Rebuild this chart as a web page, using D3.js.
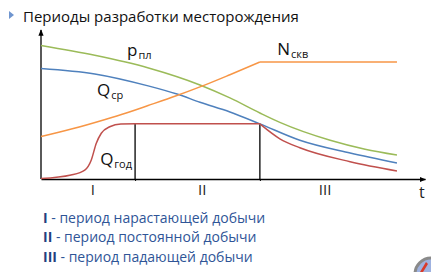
<!DOCTYPE html>
<html><head><meta charset="utf-8">
<script src="https://cdn.jsdelivr.net/npm/d3@7"></script>
<style>
html,body{margin:0;padding:0;background:#fff;}
svg{display:block;font-family:"Open Sans","Noto Sans",sans-serif;}
</style></head>
<body>
<script>
// ---- data ----
const titleText = "Периоды разработки месторождения";
const periodBounds = [24.5, 57];        // boundaries between periods (time units)
const periodEnd = 92.7;
const periodLabels = ["I", "II", "III"];
const periodLabelPos = [13.5, 42, 74];
const legendNumerals = ["I", "II", "III"];
const legendTexts = [" - период нарастающей добычи", " - период постоянной добычи", " - период падающей добычи"];

const pressureT = [0, 14, 28, 41.4, 49.2, 57, 62.2, 75.3, 84.4, 92.7];
const pressureV = [89.6, 83, 74.5, 63.1, 54.4, 44.3, 38, 26, 20, 16.1];

const avgRateT = [0, 14, 27.9, 35.4, 41.4, 49.2, 57, 67.4, 80.5, 92.7];
const avgRateV = [74.2, 70.5, 62.5, 57, 51.5, 45, 37, 26, 17.4, 10.7];

const wellsT = [0, 7.9, 16.5, 22.4, 27.9, 35.4, 41.4, 49.2, 57, 92.7];
const wellsV = [28.5, 33.5, 39.8, 44.5, 49.3, 56, 61.8, 70, 78.5, 78.5];

const annualT = [0, 7.8, 11.4, 13.1, 14.4, 15.7, 17.9, 20.8, 24.5, 57, 62.2, 67.4, 80.5, 92.7];
const annualV = [0.3, 2.7, 6, 12.8, 24, 30.7, 35.1, 36.9, 37, 37, 27, 21, 11.6, 5.4];

const seriesLabels = [
  {main: "p", sub: "пл", t: 22.4, v: 82.3},
  {main: "Q", sub: "ср", t: 14.6, v: 55.5},
  {main: "Q", sub: "год", t: 15.4, v: 9.4},
  {main: "N", sub: "скв", t: 61.5, v: 83.2}
];

// ---- drawing ----
const W = 431, H = 272;
const svg = d3.select("body").append("svg").attr("width", W).attr("height", H);

const x = d3.scaleLinear().domain([0, 100]).range([41, 425]);
const y = d3.scaleLinear().domain([0, 100]).range([179, 30]);

const defs = svg.append("defs");
defs.append("marker").attr("id", "arr").attr("viewBox", "0 0 10 10")
  .attr("refX", 9).attr("refY", 5).attr("markerWidth", 5).attr("markerHeight", 5)
  .attr("orient", "auto").append("path").attr("d", "M0,1 L10,5 L0,9 z").attr("fill", "#000");

// title
svg.append("path").attr("d", "M9,11 L14,15 L9,19 Z").attr("fill", "#6f95cf");
svg.append("text").attr("x", 23).attr("y", 22).attr("font-size", 15).attr("fill", "#111")
  .text(titleText);

// axes
const xAxis = d3.axisBottom(x).tickValues(periodBounds).tickSize(2).tickSizeOuter(0).tickFormat("");
const gx = svg.append("g").attr("transform", `translate(0,${y(0)})`).call(xAxis);
gx.select(".domain").attr("stroke", "#000").attr("stroke-width", 1.3).attr("marker-end", "url(#arr)");
gx.selectAll(".tick line").attr("stroke", "#000");

const yAxis = d3.axisLeft(y).tickValues([]).tickSizeOuter(0);
const gy = svg.append("g").attr("transform", `translate(${x(0)},0)`).call(yAxis);
gy.select(".domain").attr("stroke", "#000").attr("stroke-width", 1.3)
  .attr("d", `M0,${y(0)}V${y(100)}`).attr("marker-end", "url(#arr)");

// period separators
const plateau = annualV[annualT.indexOf(periodBounds[1])];
svg.selectAll("line.sep").data(periodBounds).enter().append("line")
  .attr("x1", d => x(d)).attr("x2", d => x(d))
  .attr("y1", y(plateau)).attr("y2", y(0))
  .attr("stroke", "#000").attr("stroke-width", 1.3);

// series
function drawSeries(T, V, color, breakT) {
  const pts = T.map((t, i) => [t, V[i]]);
  const line = d3.line().x(d => x(d[0])).y(d => y(d[1])).curve(d3.curveMonotoneX);
  let segs = [pts];
  if (breakT !== undefined) {
    const k = T.indexOf(breakT);
    segs = [pts.slice(0, k + 1), pts.slice(k)];
  }
  segs.forEach(s => svg.append("path").attr("d", line(s)).attr("fill", "none")
    .attr("stroke", color).attr("stroke-width", 1.5));
}
drawSeries(pressureT, pressureV, "#9bbb59");
drawSeries(avgRateT, avgRateV, "#4f81bd");
drawSeries(wellsT, wellsV, "#f79646", periodBounds[1]);
drawSeries(annualT, annualV, "#c0504d", periodBounds[1]);

// series labels
seriesLabels.forEach(l => {
  const t = svg.append("text").attr("x", x(l.t)).attr("y", y(l.v)).attr("fill", "#111")
    .attr("font-size", 17);
  t.append("tspan").text(l.main);
  t.append("tspan").attr("font-size", 11).attr("dy", 3).attr("dx", 1).text(l.sub);
});

// period labels
svg.selectAll("text.per").data(periodLabels).enter().append("text")
  .attr("x", (d, i) => x(periodLabelPos[i])).attr("y", 195)
  .attr("text-anchor", "middle").attr("font-size", 15).attr("fill", "#222").text(d => d);
svg.append("text").attr("x", 419).attr("y", 198).attr("font-size", 16).attr("fill", "#222").text("t");

// legend
legendTexts.forEach((txt, i) => {
  const t = svg.append("text").attr("x", 43).attr("y", 223 + i * 19.3).attr("font-size", 14);
  t.append("tspan").attr("font-weight", "bold").attr("fill", "#23407e").text(legendNumerals[i]);
  t.append("tspan").attr("fill", "#2f5597").text(txt);
});

// corner icon (partially visible)
svg.append("circle").attr("cx", 431).attr("cy", 274).attr("r", 16)
  .attr("fill", "#9fb2e0").attr("stroke", "#8a8a8a").attr("stroke-width", 3);
svg.append("path").attr("d", "M420,272 L426,262 L428,264 L423,272 Z").attr("fill", "#d93a2b");
</script>
</body></html>
